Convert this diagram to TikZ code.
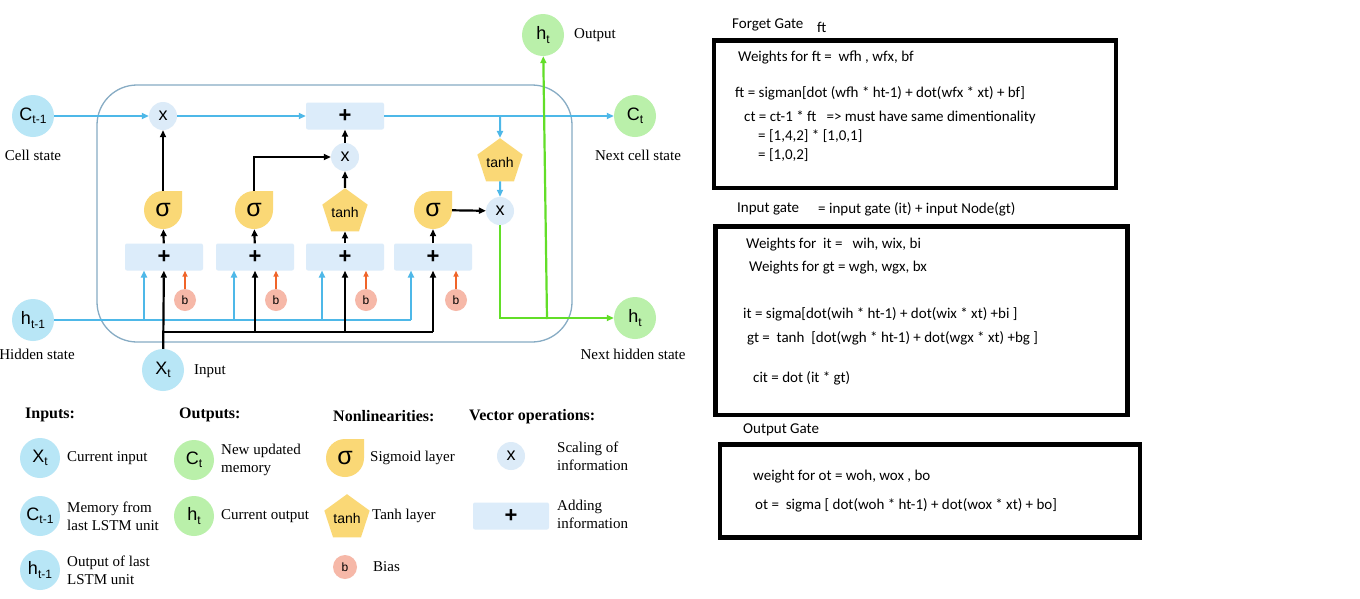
\documentclass[tikz,border=0pt]{standalone}
\usepackage{fontspec}
\setmainfont{Liberation Serif}
\newfontfamily\labfont{Liberation Sans}
\newfontfamily\calfont{Carlito}
\usetikzlibrary{shapes.geometric,arrows.meta}
\definecolor{cyanf}{RGB}{184,230,246}
\definecolor{greenf}{RGB}{186,240,170}
\definecolor{mulf}{RGB}{220,235,248}
\definecolor{boxf}{RGB}{220,236,250}
\definecolor{yelf}{RGB}{250,216,118}
\definecolor{biasf}{RGB}{246,184,168}
\definecolor{blueL}{RGB}{78,184,232}
\definecolor{greenL}{RGB}{98,222,40}
\definecolor{orangeL}{RGB}{240,100,40}
\definecolor{framec}{RGB}{135,172,196}
\newcommand\vlab[2]{#1\raisebox{-0.35ex}{\fontsize{12}{12}\selectfont #2}}
\newcommand\sigmanode[4]{%
  \fill[yelf] ({#2},{#3-#4}) -- ({#2+#4},{#3-#4}) -- ({#2+#4},{#3}) arc[start angle=0,end angle=270,radius=#4];
  \node[sig] (#1) at (#2,#3) {σ};}
\tikzset{
  state/.style={circle,minimum size=42pt,inner sep=0pt,font=\labfont\fontsize{18}{18}\selectfont},
  instate/.style={state,fill=cyanf},
  outstate/.style={state,fill=greenf},
  mul/.style={circle,fill=mulf,minimum size=28pt,inner sep=0pt,font=\labfont\fontsize{18}{18}\selectfont},
  addbox/.style={rectangle,rounded corners=2pt,fill=boxf,minimum width=78pt,minimum height=27pt,inner sep=0pt,font=\labfont\bfseries\fontsize{22}{22}\selectfont},
  bias/.style={circle,fill=biasf,minimum size=22pt,inner sep=0pt,font=\labfont\fontsize{12}{12}\selectfont},
  sig/.style={circle,minimum size=38pt,inner sep=0pt,font=\labfont\fontsize{25}{25}\selectfont},
  tanhn/.style={regular polygon,regular polygon sides=5,fill=yelf,minimum size=46pt,inner sep=0pt,font=\labfont\fontsize{14}{14}\selectfont},
  lbl/.style={font=\fontsize{15}{18}\selectfont,inner sep=0pt},
  lbll/.style={lbl,anchor=west,align=left},
  hdr/.style={font=\bfseries\fontsize{16}{19}\selectfont,anchor=west,inner sep=0pt},
  tip/.style={-{Triangle[length=7pt,width=6pt]}},
  bl/.style={draw=blueL,line width=2pt,tip},
  bln/.style={draw=blueL,line width=2pt},
  blk/.style={draw=black,line width=2.2pt,tip},
  blkn/.style={draw=black,line width=2.2pt},
  grn/.style={draw=greenL,line width=2.2pt,tip},
  org/.style={draw=orangeL,line width=1.6pt,-{Triangle[length=6pt,width=5pt]}},
  eq/.style={font=\calfont\fontsize{15}{18}\selectfont,anchor=west,inner sep=0pt},
  gatebox/.style={draw=black,line width=4.6pt},
}
\begin{document}
\begin{tikzpicture}[x=1pt,y=-1pt]
\useasboundingbox[fill=white] (0,0) rectangle (1360,598);
% container
\draw[framec,line width=1.3pt,rounded corners=40pt] (97,85) rectangle (572,342);
% main states
\node[instate] (cprev) at (33,116) {\vlab{C}{t-1}};
\node[instate] (hprev) at (33,320) {\vlab{h}{t-1}};
\node[instate] (xt) at (163,370) {\vlab{X}{t}};
\node[outstate] (cnext) at (635,116) {\vlab{C}{t}};
\node[outstate] (hout) at (543,35) {\vlab{h}{t}};
\node[outstate] (hnext) at (635,318) {\vlab{h}{t}};
\node[lbl] (lcs) at (33,155) {Cell state};
\node[lbl] (lhs) at (37,354) {Hidden state};
\node[lbll] (lin) at (194,371) {Input};
\node[lbll] (lout) at (574,35) {Output};
\node[lbl] (lncs) at (638,155) {Next cell state};
\node[lbl] (lnhs) at (633,354) {Next hidden state};
% operators
\node[mul] (m1) at (163,116) {x};
\node[addbox] (add) at (345,116) {+};
\node[mul] (m2) at (345,157) {x};
\node[mul] (m3) at (500,211) {x};
\node[tanhn] (tanh2) at (500,162) {tanh};
% gate boxes
\node[addbox] (g1) at (164,257) {+};
\node[addbox] (g2) at (255,257) {+};
\node[addbox] (g3) at (345,257) {+};
\node[addbox] (g4) at (433,257) {+};
% bias
\node[bias] (b1) at (185,300) {b};
\node[bias] (b2) at (276,300) {b};
\node[bias] (b3) at (366,300) {b};
\node[bias] (b4) at (456,300) {b};
% nonlinearities
\sigmanode{s1}{163}{210}{19}
\sigmanode{s2}{254}{210}{19}
\node[tanhn] (tanh1) at (345,212) {tanh};
\sigmanode{s4}{433}{210}{19}
% cell line
\draw[bl] (cprev) -- (m1);
\draw[bl] (m1) -- (add);
\draw[bl] (add) -- (cnext);
\coordinate (br) at (500,116);
\draw[bl] (br) -- (tanh2.north);
\draw[bl] (tanh2) -- (m3);
% green output
\coordinate (gj) at (547,319);
\draw[grn] (m3.south) |- (hnext);
\draw[grn] (gj) -- (hout);
% hidden line
\coordinate (hj1) at (144,320);
\coordinate (hj2) at (234,320);
\coordinate (hj3) at (322,320);
\coordinate (hj4) at (411,320);
\coordinate (ht1) at (144,270.5);
\coordinate (ht2) at (234,270.5);
\coordinate (ht3) at (322,270.5);
\coordinate (ht4) at (411,270.5);
\draw[bln] (hprev) -- (hj4);
\draw[bl] (hj1) -- (ht1);
\draw[bl] (hj2) -- (ht2);
\draw[bl] (hj3) -- (ht3);
\draw[bl] (hj4) -- (ht4);
% input line
\coordinate (xj1) at (163,332);
\coordinate (xj2) at (255,332);
\coordinate (xj3) at (345,332);
\coordinate (xj4) at (433,332);
\draw[blk] (xt) -- (g1);
\draw[blkn] (xj1) -- (xj4);
\draw[blk] (xj2) -- (g2);
\draw[blk] (xj3) -- (g3);
\draw[blk] (xj4) -- (g4);
% bias arrows
\draw[org] (b1) -- (b1 |- g1.south);
\draw[org] (b2) -- (b2 |- g2.south);
\draw[org] (b3) -- (b3 |- g3.south);
\draw[org] (b4) -- (b4 |- g4.south);
% gate arrows
\draw[blk] (g1) -- (s1);
\draw[blk] (g2) -- (s2);
\draw[blk] (g3) -- (tanh1);
\draw[blk] (g4) -- (s4);
\draw[blk] (s1) -- (m1);
\draw[blk] (s2.north) |- (m2);
\draw[blk] (tanh1) -- (m2);
\draw[blk] (m2) -- (add);
\draw[blk] (s4) -- (m3);
% legend
\node[hdr] (hin) at (25,415) {Inputs:};
\node[hdr] (hou) at (179,415) {Outputs:};
\node[hdr] (hnl) at (333,416) {Nonlinearities:};
\node[hdr] (hvo) at (469,417) {Vector operations:};
\node[instate,minimum size=40pt] (lx) at (40,458) {\vlab{X}{t}};
\node[lbll] at (67,458) {Current input};
\node[instate,minimum size=40pt] (lc) at (40,516) {\vlab{C}{t-1}};
\node[lbll] at (67,516) {Memory from\\last LSTM unit};
\node[instate,minimum size=40pt] (lh) at (40,570) {\vlab{h}{t-1}};
\node[lbll] at (67,570) {Output of last\\LSTM unit};
\node[outstate,minimum size=40pt] (lct) at (194,460) {\vlab{C}{t}};
\node[lbll] at (221,460) {New updated\\memory};
\node[outstate,minimum size=40pt] (lht) at (194,516) {\vlab{h}{t}};
\node[lbll] at (221,516) {Current output};
\sigmanode{ls}{345}{458}{19}
\node[lbll] at (370,458) {Sigmoid layer};
\node[tanhn] (lt) at (347,518) {tanh};
\node[lbll] at (372,516) {Tanh layer};
\node[bias,minimum size=24pt] (lb) at (345,567) {b};
\node[lbll] at (373,567) {Bias};
\node[mul] (lm) at (511,456) {x};
\node[lbll] at (557,456) {Scaling of\\information};
\node[addbox,minimum width=76pt] (la) at (511,516) {+};
\node[lbll] at (557,514) {Adding\\information};
% right side
\node[eq] at (732,25) {Forget Gate};
\node[eq] at (817,27) {ft};
\draw[gatebox] (714,40.5) rectangle (1116,188);
\node[eq] at (738,58) {Weights for ft =\ \ wfh , wfx, bf};
\node[eq] at (735,93) {ft = sigman[dot (wfh * ht-1) + dot(wfx * xt) + bf]};
\node[eq] at (744,117) {ct = ct-1 * ft\ \ \ => must have same dimentionality};
\node[eq] at (758,136) {= [1,4,2] * [1,0,1]};
\node[eq] at (758,155) {= [1,0,2]};
\node[eq] at (737,209) {Input gate};
\node[eq] at (818,209) {= input gate (it) + input Node(gt)};
\draw[gatebox] (715.5,226.5) rectangle (1127.5,415);
\node[eq] at (746,245) {Weights for\ \ it =\ \ \ wih, wix, bi};
\node[eq] at (749,268) {Weights for gt = wgh, wgx, bx};
\node[eq] at (743,314) {it = sigma[dot(wih * ht-1) + dot(wix * xt) +bi ]};
\node[eq] at (747,338) {gt =\ \ tanh\ \ [dot(wgh * ht-1) + dot(wgx * xt) +bg ]};
\node[eq] at (753,378) {cit = dot (it * gt)};
\node[eq] at (743,430) {Output Gate};
\draw[gatebox] (720,444.5) rectangle (1140,537.5);
\node[eq] at (753,477) {weight for ot = woh, wox , bo};
\node[eq] at (755,505) {ot =\ \ sigma [ dot(woh * ht-1) + dot(wox * xt) + bo]};
\end{tikzpicture}
\end{document}
